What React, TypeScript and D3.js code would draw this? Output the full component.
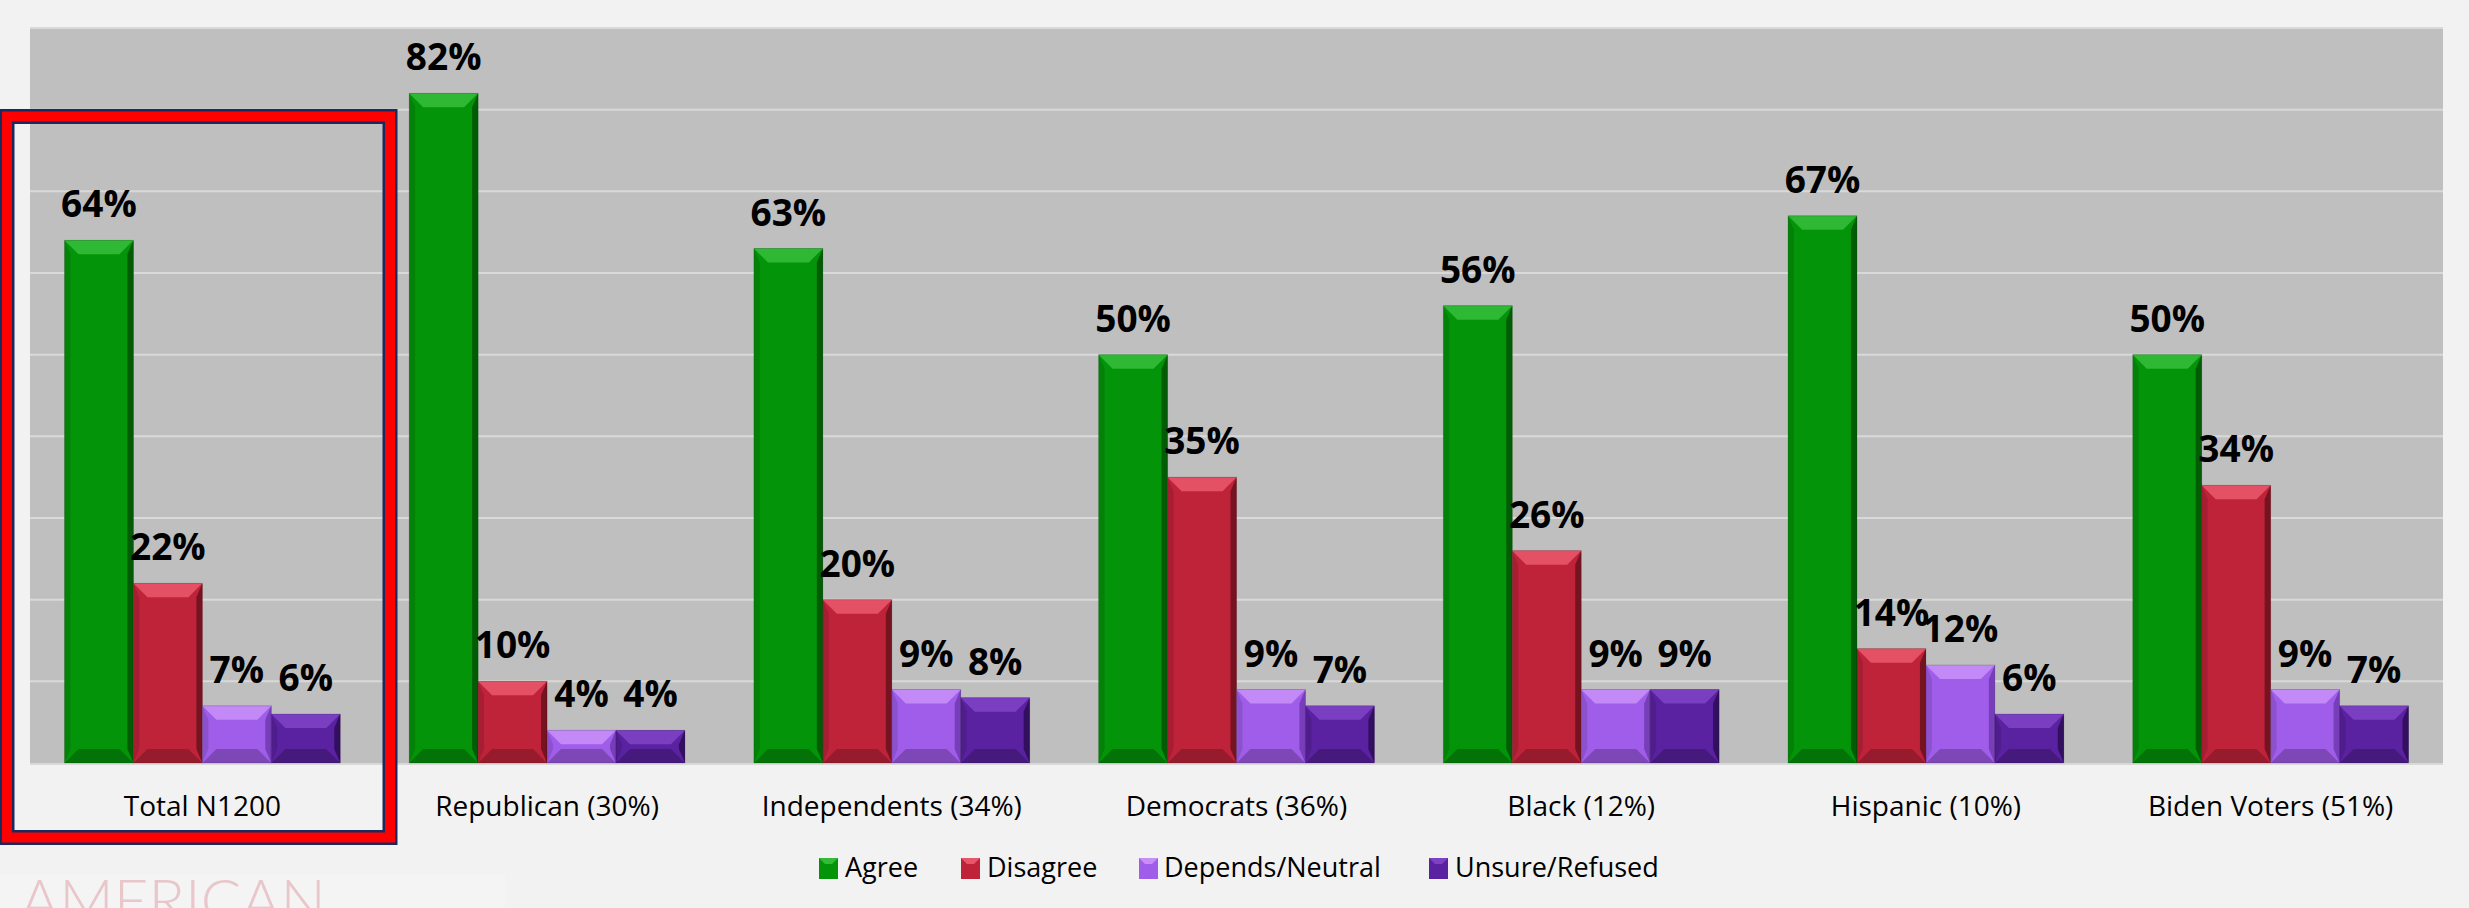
import React from "react";
import * as d3 from "d3";

const categories = [
  "Total N1200",
  "Republican (30%)",
  "Independents (34%)",
  "Democrats (36%)",
  "Black (12%)",
  "Hispanic (10%)",
  "Biden Voters (51%)",
];
const seriesNames = ["Agree", "Disagree", "Depends/Neutral", "Unsure/Refused"];
const agree = [64, 82, 63, 50, 56, 67, 50];
const disagree = [22, 10, 20, 35, 26, 14, 34];
const depends = [7, 4, 9, 9, 9, 12, 9];
const unsure = [6, 4, 8, 7, 9, 6, 7];
const yTicks = [10, 20, 30, 40, 50, 60, 70, 80, 90];

const seriesValues = [agree, disagree, depends, unsure];
const colors = [
  { base: "#04940a", light: "#33bb38", dark: "#014a04" },
  { base: "#bf233a", light: "#e8566a", dark: "#5e0f1a" },
  { base: "#a05de9", light: "#c78ef7", dark: "#6a34a8" },
  { base: "#5a21a0", light: "#7d42c4", dark: "#26094a" },
];

const W = 2469;
const H = 908;
const plot = { left: 30, right: 2443, top: 28, bottom: 763 };

function Bar({ x, y, w, h, c }: { x: number; y: number; w: number; h: number; c: any }) {
  const b = Math.min(14, h / 2);
  const s = Math.min(6, h / 2);
  const x2 = x + w;
  const y2 = y + h;
  const pts = (arr: number[][]) => arr.map((p) => p.join(",")).join(" ");
  return (
    <g>
      <rect x={x} y={y} width={w} height={h} fill={c.base} />
      {/* left bevel */}
      <polygon points={pts([[x, y], [x + s, y + b], [x + s, y2 - b], [x, y2]])} fill="#000" opacity={0.12} />
      {/* right bevel */}
      <polygon points={pts([[x2, y], [x2 - s, y + b], [x2 - s, y2 - b], [x2, y2]])} fill={c.dark} opacity={0.75} />
      {/* bottom bevel */}
      <polygon points={pts([[x, y2], [x + b, y2 - b], [x2 - b, y2 - b], [x2, y2]])} fill="#000" opacity={0.22} />
      {/* top bevel */}
      <polygon points={pts([[x, y], [x2, y], [x2 - b, y + b], [x + b, y + b]])} fill={c.light} opacity={0.9} />
      <rect x={x} y={y} width={w} height={h} fill="none" stroke="#000" strokeOpacity={0.15} strokeWidth={1} />
    </g>
  );
}

export default function App() {
  const x0 = d3.scaleBand<string>().domain(categories).range([plot.left, plot.right]).paddingInner(0).paddingOuter(0);
  const groupPad = x0.bandwidth() / 10;
  const x1 = d3
    .scaleBand<string>()
    .domain(seriesNames)
    .range([groupPad, x0.bandwidth() - groupPad])
    .padding(0);
  const y = d3.scaleLinear().domain([0, 90]).range([plot.bottom, plot.top]);

  const legendSquareX = [819, 961, 1139, 1429];
  const legendTextX = [845, 987, 1164, 1455];

  return (
    <svg
      width={W}
      height={H}
      style={{ position: "absolute", left: 0, top: 0, display: "block" }}
      fontFamily="'Open Sans', sans-serif"
    >
      <rect x={0} y={0} width={W} height={H} fill="#f2f2f2" />
      <rect x={0} y={875} width={505} height={H - 875} fill="#f4f4f4" />
      <text x={20} y={922} fontFamily="Lato, sans-serif" fontWeight={300} fontSize={60} fill="#e8c6ca">
        AMERICAN
      </text>

      <rect x={plot.left} y={plot.top} width={plot.right - plot.left} height={plot.bottom - plot.top} fill="#bfbfbf" />
      {yTicks.map((t) => (
        <line key={t} x1={plot.left} x2={plot.right} y1={y(t)} y2={y(t)} stroke="#d9d9d9" strokeWidth={2} />
      ))}
      <line x1={plot.left} x2={plot.right} y1={plot.bottom + 1} y2={plot.bottom + 1} stroke="#d9d9d9" strokeWidth={2} />

      {categories.map((cat, i) => (
        <g key={cat}>
          {seriesNames.map((sn, j) => {
            const v = seriesValues[j][i];
            const bx = (x0(cat) as number) + (x1(sn) as number);
            const bw = x1.bandwidth();
            const by = y(v);
            return (
              <g key={sn}>
                <Bar x={bx} y={by} w={bw} h={plot.bottom - by} c={colors[j]} />
              </g>
            );
          })}
        </g>
      ))}
      {categories.map((cat, i) => (
        <g key={cat + "l"}>
          {seriesNames.map((sn, j) => {
            const v = seriesValues[j][i];
            const bx = (x0(cat) as number) + (x1(sn) as number);
            const bw = x1.bandwidth();
            return (
              <text
                key={sn}
                x={bx + bw / 2}
                y={y(v) - 23}
                textAnchor="middle"
                fontWeight={700}
                fontSize={37}
                fill="#000"
              >
                {v}%
              </text>
            );
          })}
          <text
            x={(x0(cat) as number) + x0.bandwidth() / 2}
            y={816}
            textAnchor="middle"
            fontSize={28}
            fill="#000"
          >
            {cat}
          </text>
        </g>
      ))}

      {seriesNames.map((sn, j) => (
        <g key={sn}>
          <rect x={legendSquareX[j]} y={858} width={19} height={21} fill={colors[j].base} />
          <polygon
            points={`${legendSquareX[j]},858 ${legendSquareX[j] + 19},858 ${legendSquareX[j] + 13},864 ${legendSquareX[j] + 6},864`}
            fill={colors[j].light}
          />
          <text x={legendTextX[j]} y={877} fontSize={27} fill="#000">
            {sn}
          </text>
        </g>
      ))}

      <rect x={7} y={116.5} width={383} height={721} fill="none" stroke="#1b2a5e" strokeWidth={15} />
      <rect x={7} y={116.5} width={383} height={721} fill="none" stroke="#ff0000" strokeWidth={10} />
    </svg>
  );
}
